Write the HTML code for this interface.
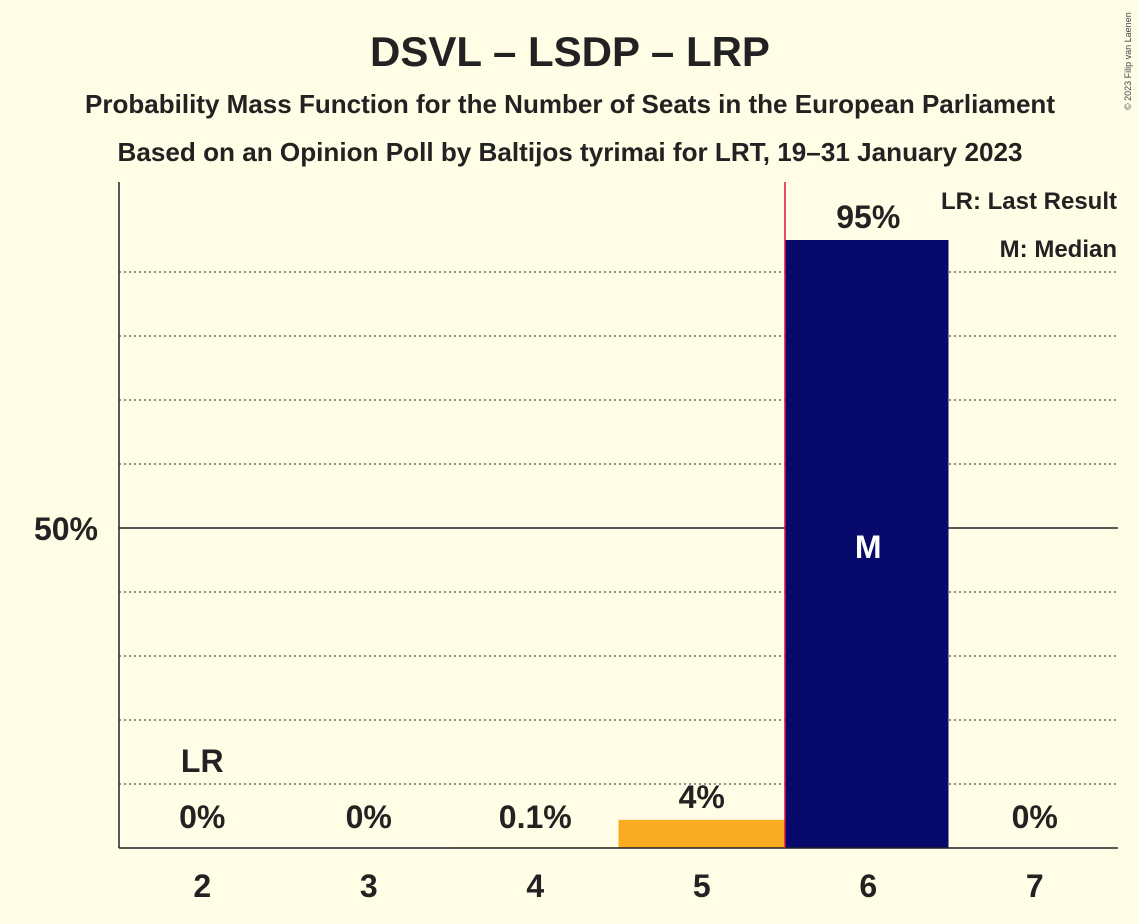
<!DOCTYPE html>
<html><head><meta charset="utf-8"><style>
html,body{margin:0;padding:0;background:#fffde6;}
svg{display:block;font-family:"Liberation Sans",sans-serif;}
</style></head><body>
<svg id="c" width="1139" height="924" viewBox="0 0 1139 924">
<rect width="1139" height="924" fill="#fffde6"/>
<text x="570" y="66" text-anchor="middle" font-size="42" font-weight="bold" fill="#222">DSVL – LSDP – LRP</text>
<text x="570" y="113" text-anchor="middle" font-size="26" font-weight="bold" fill="#222" textLength="970" lengthAdjust="spacingAndGlyphs">Probability Mass Function for the Number of Seats in the European Parliament</text>
<text x="570" y="161" text-anchor="middle" font-size="26" font-weight="bold" fill="#222" textLength="905" lengthAdjust="spacingAndGlyphs">Based on an Opinion Poll by Baltijos tyrimai for LRT, 19–31 January 2023</text>
<text x="1131" y="110" font-size="9" fill="#444" transform="rotate(-90 1131 110)">© 2023 Filip van Laenen</text>
<g id="grid"></g>
<g id="bars"></g>
<line x1="119" y1="182" x2="119" y2="848" stroke="#222" stroke-width="1.5"/>
<line x1="119" y1="848" x2="1118" y2="848" stroke="#222" stroke-width="1.5"/>
<text x="98" y="540" text-anchor="end" font-size="32" font-weight="bold" fill="#222">50%</text>
<text x="1117" y="209" text-anchor="end" font-size="24" font-weight="bold" fill="#222">LR: Last Result</text>
<text x="1117" y="257" text-anchor="end" font-size="24" font-weight="bold" fill="#222">M: Median</text>
</svg>
<script>
const categories=[2,3,4,5,6,7];
const values=[0,0,0.1,4.4,95,0];
const labels=["0%","0%","0.1%","4%","95%","0%"];
const lastResult=2, median=6;
const NS="http://www.w3.org/2000/svg";
const x0=119,step=166.5,y0=848,k=6.4;
const X=i=>x0+step*(i+0.5);
const Y=v=>y0-v*k;
function mk(t,a,p){const e=document.createElementNS(NS,t);for(const q in a)e.setAttribute(q,a[q]);p.appendChild(e);return e;}
const grid=document.getElementById('grid'),bars=document.getElementById('bars'),svg=document.getElementById('c');
for(let g=10;g<=90;g+=10){
 const l=mk('line',{x1:x0,x2:1118,y1:Y(g),y2:Y(g),stroke:'#222','stroke-width':g===50?1.5:1,'stroke-dasharray':g===50?'none':'2,3'},grid);
 
 
}
categories.forEach((c,i)=>{
 const col=c===median?'#070a6b':'#f9ab21';
 if(values[i]>0){
  const r=mk('rect',{x:X(i)-step/2,y:Y(values[i]),width:step-(c===median?3:0),height:values[i]*k,fill:col},bars);
  
  
 }
 const t=mk('text',{x:X(i),y:Math.min(Y(values[i])-12,828),'text-anchor':'middle','font-size':32,'font-weight':'bold',fill:'#222'},svg);
 t.textContent=labels[i];
 
 
 const xl=mk('text',{x:X(i),y:897,'text-anchor':'middle','font-size':32,'font-weight':'bold',fill:'#222'},svg);
 xl.textContent=c;
 
 
 if(c===lastResult){
  const lr=mk('text',{x:X(i),y:772,'text-anchor':'middle','font-size':32,'font-weight':'bold',fill:'#222'},svg);
  lr.textContent='LR';
  
  
 }
 if(c===median){
  const m=mk('text',{x:X(i),y:558,'text-anchor':'middle','font-size':32,'font-weight':'bold',fill:'#fff'},svg);
  m.textContent='M';
  
  
  const rl=mk('line',{x1:X(i)-step/2,x2:X(i)-step/2,y1:182,y2:848,stroke:'#e0103c','stroke-width':1.5},svg);
  
  
 }
});
</script>
</body></html>
